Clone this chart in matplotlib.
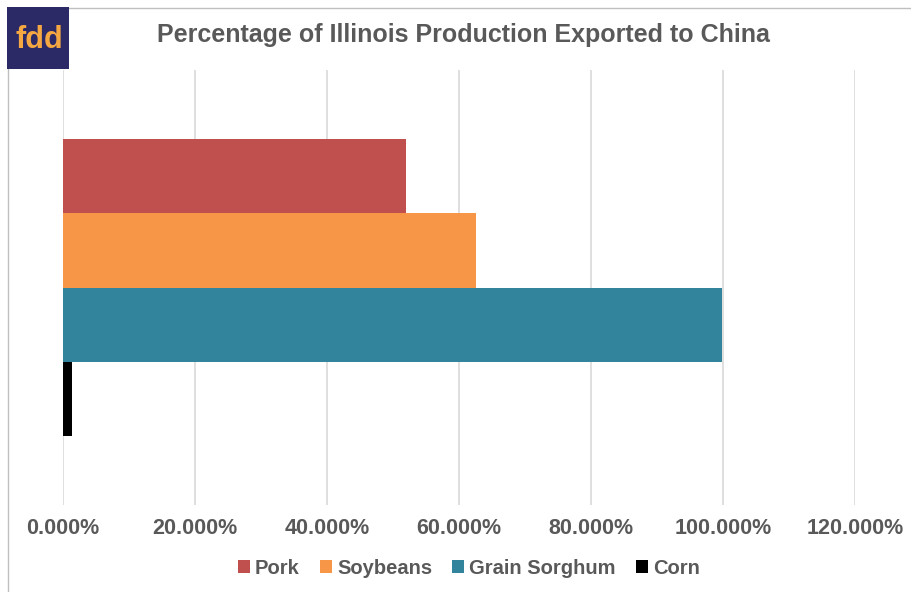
import matplotlib.pyplot as plt
from matplotlib.patches import Rectangle
from matplotlib.ticker import FuncFormatter

series = ["Pork", "Soybeans", "Grain Sorghum", "Corn"]
values = [0.520, 0.625, 0.998, 0.013]
colors = ["#C0504D", "#F79646", "#31849B", "#000000"]
ticks = [0.0, 0.2, 0.4, 0.6, 0.8, 1.0, 1.2]

plt.rcParams["font.family"] = ["Liberation Sans", "DejaVu Sans"]
text_color = "#595959"

fig = plt.figure(figsize=(9.11, 5.92), dpi=100)
ax = fig.add_axes([63 / 911, 1 - 505 / 592, (855 - 63) / 911, 435 / 592])

bar_h = 0.171
offsets = [1.5, 0.5, -0.5, -1.5]
for name, val, col, off in zip(series, values, colors, offsets):
    ax.barh(off * bar_h, val, height=bar_h, color=col, label=name, zorder=3)

ax.set_xlim(0, 1.2)
ax.set_ylim(-0.5, 0.5)
ax.set_xticks(ticks)
ax.xaxis.set_major_formatter(FuncFormatter(lambda v, p: f"{v * 100:.3f}%"))
ax.set_yticks([])
ax.grid(axis="x", color="#D9D9D9", linewidth=1.2, zorder=0)
ax.tick_params(axis="x", length=0, pad=9, labelsize=15.5, labelcolor=text_color)
for lbl in ax.get_xticklabels():
    lbl.set_fontweight("bold")
for s in ax.spines.values():
    s.set_visible(False)

leg = fig.legend(loc="center", bbox_to_anchor=(469 / 911, 1 - 568 / 592), ncol=4,
                 frameon=False, handlelength=0.6, handleheight=0.6, handletextpad=0.25,
                 columnspacing=1.0, prop={"size": 14.5, "weight": "bold"})
for t in leg.get_texts():
    t.set_color(text_color)

fig.text(463 / 911, 1 - 35 / 592, "Percentage of Illinois Production Exported to China",
         ha="center", va="center", fontsize=18, fontweight="bold", color=text_color)

# chart frame (top and left edges visible)
fig.add_artist(plt.Line2D([8 / 911, 1], [1 - 8 / 592, 1 - 8 / 592], color="#BFBFBF", linewidth=1))
fig.add_artist(plt.Line2D([8 / 911, 8 / 911], [0, 1 - 8 / 592], color="#BFBFBF", linewidth=1))

# fdd logo
fig.add_artist(Rectangle((7 / 911, 1 - 69 / 592), 62 / 911, 62 / 592, transform=fig.transFigure,
                         facecolor="#2B2A66", edgecolor="none", zorder=5))
fig.text(39 / 911, 1 - 40 / 592, "fdd", ha="center", va="center", fontsize=22,
         fontweight="bold", color="#F5A742", zorder=6)

fig.savefig("out.png", dpi=100)
